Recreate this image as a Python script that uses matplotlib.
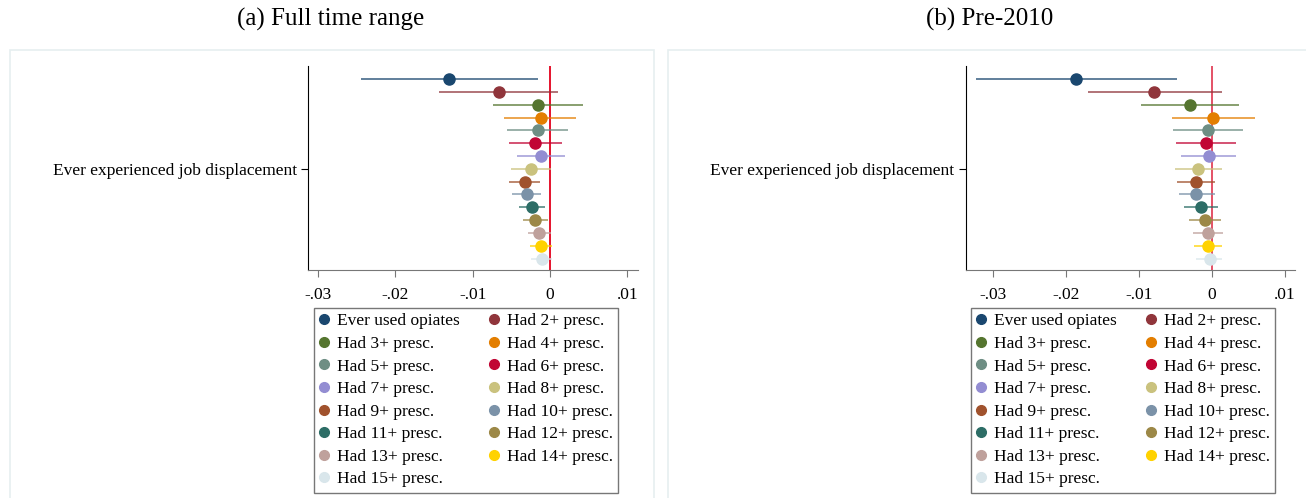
import matplotlib.pyplot as plt
from matplotlib.lines import Line2D
from matplotlib.patches import Rectangle

plt.rcParams['font.family'] = ['Liberation Serif', 'DejaVu Serif']

labels = ['Ever used opiates', 'Had 2+ presc.', 'Had 3+ presc.', 'Had 4+ presc.',
          'Had 5+ presc.', 'Had 6+ presc.', 'Had 7+ presc.', 'Had 8+ presc.',
          'Had 9+ presc.', 'Had 10+ presc.', 'Had 11+ presc.', 'Had 12+ presc.',
          'Had 13+ presc.', 'Had 14+ presc.', 'Had 15+ presc.']
colors = ['#1a476f', '#90353b', '#55752f', '#e37e00', '#6e8e84', '#c10534',
          '#938dd2', '#cac27e', '#a0522d', '#7b92a8', '#2d6d66', '#9c8847',
          '#bfa19c', '#ffd200', '#d9e6eb']

# panel (a) full time range
full_est = [-0.0130, -0.0066, -0.0015, -0.0012, -0.0016, -0.0019, -0.0011, -0.0025,
            -0.0032, -0.0030, -0.0023, -0.0019, -0.0014, -0.0011, -0.0010]
full_lo = [-0.0244, -0.0143, -0.0074, -0.0059, -0.0056, -0.0053, -0.0042, -0.0051,
           -0.0053, -0.0049, -0.0040, -0.0035, -0.0029, -0.0026, -0.0024]
full_hi = [-0.0015, 0.0011, 0.0043, 0.0034, 0.0024, 0.0015, 0.0019, 0.0001,
           -0.0013, -0.0011, -0.0006, -0.0002, 0.0002, 0.0003, 0.0003]

# panel (b) pre-2010
pre_est = [-0.0186, -0.0079, -0.0030, 0.0002, -0.0005, -0.0008, -0.0004, -0.0019,
           -0.0022, -0.0021, -0.0015, -0.0009, -0.0005, -0.0005, -0.0003]
pre_lo = [-0.0323, -0.0170, -0.0097, -0.0054, -0.0053, -0.0049, -0.0042, -0.0050,
          -0.0048, -0.0045, -0.0038, -0.0031, -0.0026, -0.0024, -0.0021]
pre_hi = [-0.0048, 0.0014, 0.0037, 0.0059, 0.0043, 0.0033, 0.0033, 0.0014,
          0.0005, 0.0004, 0.0008, 0.0013, 0.0016, 0.0014, 0.0014]

xticks = [-0.03, -0.02, -0.01, 0, 0.01]
xticklabels = ['-.03', '-.02', '-.01', '0', '.01']
ylabel = 'Ever experienced job displacement'

W, H = 1306, 498
fig = plt.figure(figsize=(W / 100, H / 100), dpi=100)


def px(x0, y0, x1, y1):
    return [x0 / W, 1 - y1 / H, (x1 - x0) / W, (y1 - y0) / H]


# light panel frames
for x0, x1 in [(10, 654), (668, 1310)]:
    fig.patches.append(Rectangle((x0 / W, -0.05), (x1 - x0) / W, 1.05 - 50 / H,
                                 transform=fig.transFigure, fill=False,
                                 edgecolor='#e6eff0', lw=1.2))

fig.text(331 / W, 1 - 19 / H, '(a) Full time range', ha='center', va='center', fontsize=18)
fig.text(990 / W, 1 - 19 / H, '(b) Pre-2010', ha='center', va='center', fontsize=18)


def panel(rect, est, lo, hi, xlim, legx, zero_color):
    ax = fig.add_axes(rect)
    pos = list(range(1, len(est) + 1))
    for i in range(len(est)):
        ax.plot([lo[i], hi[i]], [pos[i], pos[i]], color=colors[i], lw=1.3, alpha=0.75,
                solid_capstyle='butt', zorder=2)
        ax.plot(est[i], pos[i], 'o', color=colors[i], markersize=8, zorder=3)
    ax.axvline(0, color=zero_color, lw=1.3, zorder=1)
    ax.set_xlim(*xlim)
    ax.set_ylim(15.89, 0.02)
    ax.set_xticks(xticks)
    ax.set_xticklabels(xticklabels, fontsize=12.5)
    ax.set_yticks([8])
    ax.set_yticklabels([ylabel], fontsize=12.5)
    for s in ['top', 'right']:
        ax.spines[s].set_visible(False)
    ax.spines['bottom'].set_color('#777777')
    ax.spines['left'].set_color('black')
    ax.tick_params(axis='x', colors='#777777', labelcolor='black', length=5, pad=7)
    ax.tick_params(axis='y', length=5, pad=3)

    order = list(range(0, 15, 2)) + list(range(1, 15, 2))
    handles = [Line2D([], [], ls='none', marker='o', color=colors[i], markersize=7)
               for i in order]
    leg = fig.legend(handles, [labels[i] for i in order], ncol=2, loc='upper left',
                     bbox_to_anchor=(legx / W, 1 - 308 / H), borderaxespad=0,
                     fontsize=12.5, frameon=True, fancybox=False, edgecolor='#555555',
                     handlelength=0.6, handletextpad=0.45, labelspacing=0.37,
                     columnspacing=1.65, borderpad=0.3)
    leg.get_frame().set_linewidth(1.0)
    return ax


panel(px(308, 66.5, 637.7, 270), full_est, full_lo, full_hi,
      (-0.03131, 0.01136), 314, '#e3001b')
panel(px(965.7, 66.5, 1295, 270), pre_est, pre_lo, pre_hi,
      (-0.03374, 0.01142), 971, '#e2435a')

fig.savefig('out.png', dpi=100)
